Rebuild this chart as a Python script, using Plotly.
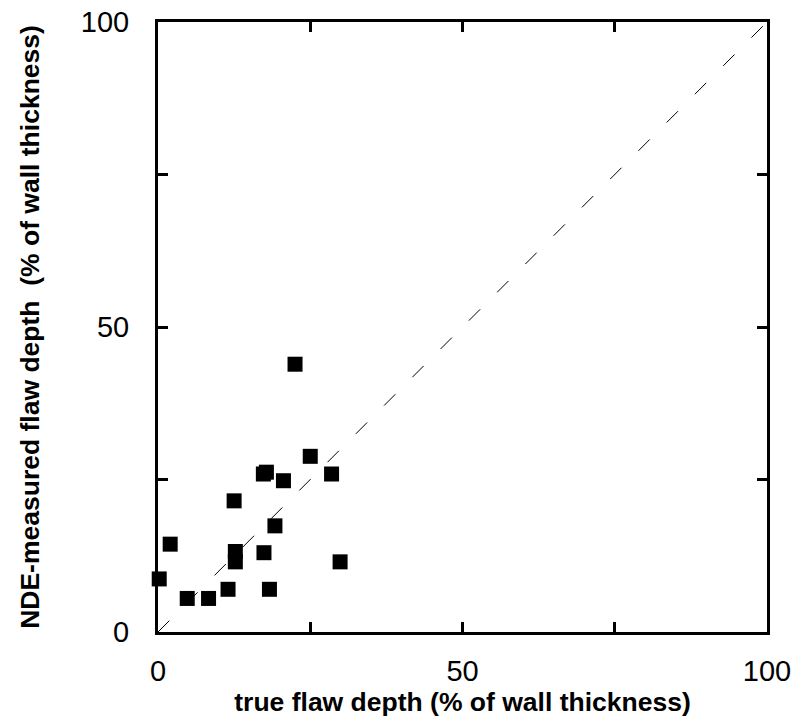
import plotly.graph_objects as go

true_depth = [22.5, 25.0, 17.3, 17.8, 20.6, 28.5, 12.5, 19.2, 2.0, 12.7, 12.7, 17.4, 29.9, 0.2, 11.5, 18.3, 4.8, 8.3]
nde_depth = [43.9, 28.8, 25.9, 26.2, 24.8, 25.9, 21.5, 17.4, 14.4, 13.2, 11.5, 13.0, 11.5, 8.7, 7.0, 7.0, 5.5, 5.5]

diag_x = [0, 100]
diag_y = [0, 100]

tick_vals = [0, 25, 50, 75, 100]
tick_text = ["0", "", "50", "", "100"]

FONT = "Liberation Sans, Arial, sans-serif"

fig = go.Figure()
fig.add_trace(go.Scatter(
    x=diag_x, y=diag_y, mode="lines",
    line=dict(color="black", width=1, dash="16px,24px"),
    hoverinfo="skip", showlegend=False,
))
fig.add_trace(go.Scatter(
    x=true_depth, y=nde_depth, mode="markers",
    marker=dict(symbol="square", size=15, color="black", line=dict(width=0)),
    cliponaxis=False, showlegend=False,
))

axis_common = dict(
    range=[0, 100], tickvals=tick_vals, ticktext=tick_text,
    ticks="inside", ticklen=10, tickwidth=2.5, tickcolor="black",
    showline=True, linewidth=3, linecolor="black", mirror="allticks",
    showgrid=False, zeroline=False, automargin=False,
    tickfont=dict(family=FONT, size=29, color="black"),
)

fig.update_layout(
    width=796, height=717,
    margin=dict(l=158, r=29, t=22, b=85),
    paper_bgcolor="white", plot_bgcolor="white",
    xaxis=dict(**axis_common, ticklabelstandoff=11,
               title=dict(text="<b>true flaw depth (% of wall thickness)</b>",
                          font=dict(family=FONT, size=26.5, color="black"), standoff=6)),
    yaxis=dict(**axis_common, ticklabelstandoff=20,
               title=dict(text="<b>NDE-measured flaw depth  (% of wall thickness)</b>",
                          font=dict(family=FONT, size=26.5, color="black"), standoff=34)),
)

fig.write_html("out.html")
